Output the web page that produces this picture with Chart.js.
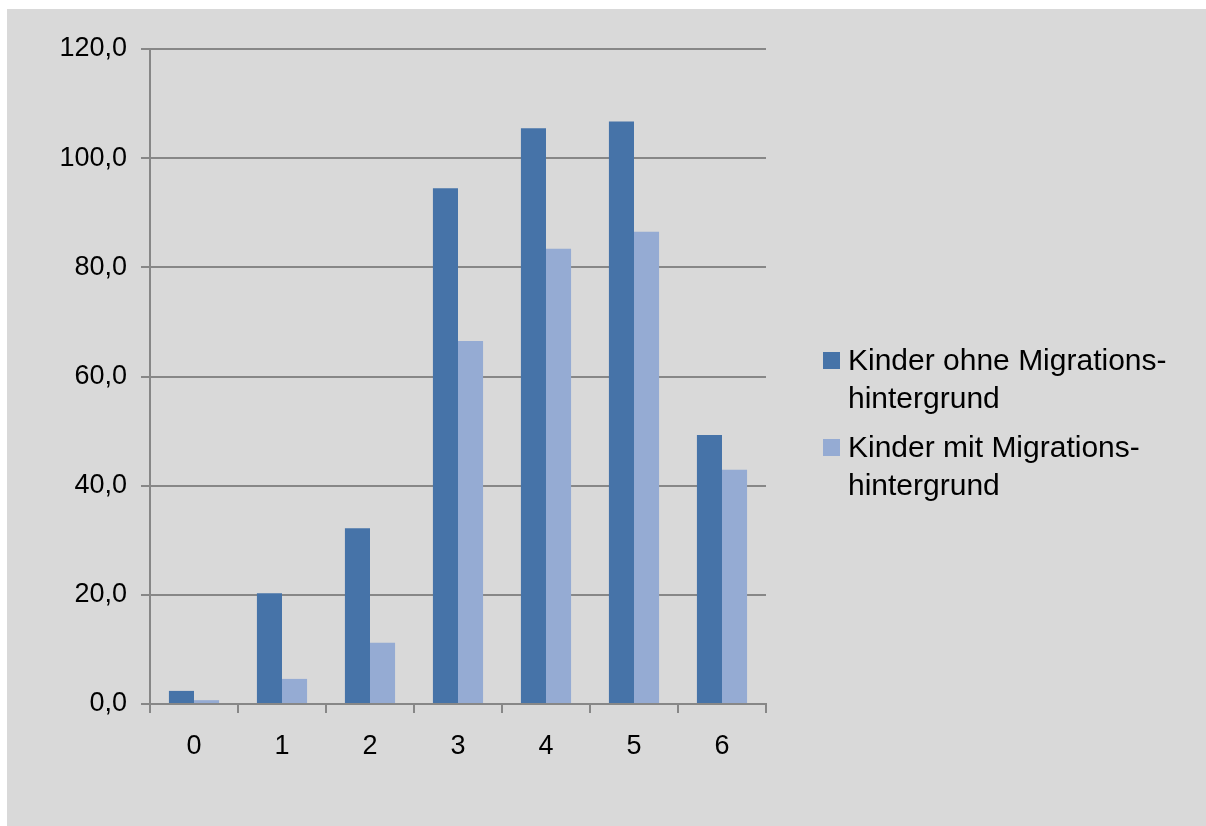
<!DOCTYPE html>
<html lang="de">
<head>
  <meta charset="UTF-8" />
  <title>Kinder mit und ohne Migrationshintergrund</title>
  <script src="https://cdn.jsdelivr.net/npm/chart.js"></script>
  <style>
    body, html {
      margin: 0;
      padding: 0;
      background: #fff;
      font-family: 'Liberation Sans', Arial, sans-serif;
    }

    #wrap {
      position: absolute;
      left: 7px;
      top: 9px;
      width: 1199px;
      height: 817px;
      background: #d9d9d9;
    }

    #legend {
      position: absolute;
      left: 816px;
      top: 332px;
      font-size: 30px;
      color: #000;
    }

    .item {
      position: relative;
      padding-left: 25px;
      line-height: 38px;
      margin-bottom: 11px;
    }

    .box {
      position: absolute;
      left: 0;
      top: 11px;
      width: 17px;
      height: 17px;
    }
  </style>
</head>
<body>
  <div id="wrap">
    <canvas id="chart" width="1199" height="817"></canvas>
    <div id="legend"></div>
  </div>

  <script>
    const categories = ['0', '1', '2', '3', '4', '5', '6'];
    const ohneMigration = [2.4, 20.3, 32.2, 94.5, 105.5, 106.7, 49.3];
    const mitMigration = [0.7, 4.6, 11.2, 66.5, 83.4, 86.5, 42.9];
    const seriesLabels = [
      ['Kinder ohne Migrations-', 'hintergrund'],
      ['Kinder mit Migrations-', 'hintergrund']
    ];
    const seriesColors = ['#4673a8', '#95abd3'];

    const gridColor = '#878787';
    const tickFont = { family: "'Liberation Sans', Arial, sans-serif", size: 27 };

    // legend as html, so the two-line labels wrap like the original
    const legend = document.getElementById('legend');
    seriesLabels.forEach((lines, i) => {
      const div = document.createElement('div');
      div.className = 'item';
      div.innerHTML = '<span class="box" style="background:' + seriesColors[i] + '"></span>' + lines.join('<br>');
      legend.appendChild(div);
    });

    new Chart(document.getElementById('chart'), {
      type: 'bar',
      data: {
        labels: categories,
        datasets: [{
          label: seriesLabels[0].join(''),
          data: ohneMigration,
          backgroundColor: seriesColors[0]
        }, {
          label: seriesLabels[1].join(''),
          data: mitMigration,
          backgroundColor: seriesColors[1]
        }]
      },
      options: {
        responsive: false,
        animation: false,
        categoryPercentage: 0.57,
        barPercentage: 1.0,
        layout: {
          padding: { top: 40, right: 440, bottom: 0, left: 0 }
        },
        plugins: {
          legend: { display: false },
          tooltip: { enabled: false }
        },
        scales: {
          x: {
            grid: {
              drawOnChartArea: false,
              offset: true,
              color: gridColor,
              lineWidth: 2,
              tickLength: 9
            },
            border: { color: gridColor, width: 2 },
            ticks: { color: '#000', font: tickFont, padding: 17 },
            afterFit: (scale) => { scale.height = 122; }
          },
          y: {
            min: 0,
            max: 120,
            ticks: {
              stepSize: 20,
              color: '#000',
              font: tickFont,
              padding: 14,
              callback: (v) => v.toFixed(1).replace('.', ',')
            },
            grid: {
              color: gridColor,
              lineWidth: 2,
              tickLength: 9
            },
            border: { color: gridColor, width: 2 },
            afterFit: (scale) => { scale.width = 143; }
          }
        }
      }
    });
  </script>
</body>
</html>
